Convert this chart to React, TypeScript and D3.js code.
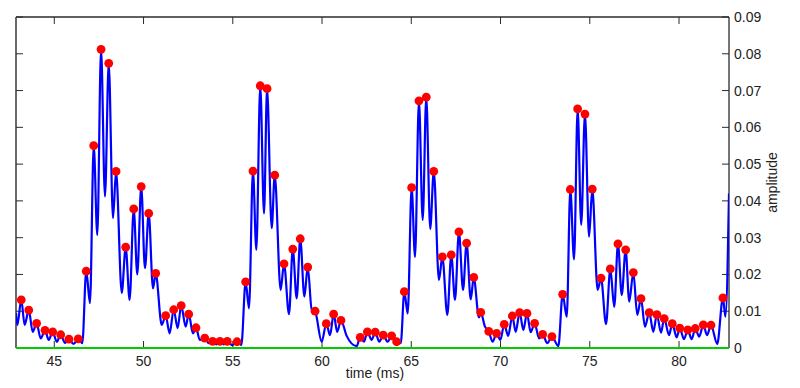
import React from "react";
import * as d3 from "d3";

const peakTimes = [
  43.15, 43.57, 44.01, 44.48, 44.91, 45.36, 45.82, 46.34, 46.79, 47.21,
  47.62, 48.05, 48.46, 49.0, 49.45, 49.87, 50.29, 50.68, 51.24, 51.69,
  52.11, 52.53, 52.94, 53.43, 53.87, 54.28, 54.69, 55.24, 55.72, 56.13,
  56.54, 56.92, 57.35, 57.87, 58.36, 58.78, 59.2, 59.61, 60.24, 60.65,
  61.06, 62.14, 62.54, 62.98, 63.43, 63.9, 64.18, 64.61, 65.02, 65.43,
  65.84, 66.26, 66.74, 67.24, 67.67, 68.1, 68.5, 68.89, 69.34, 69.78,
  70.21, 70.66, 71.07, 71.48, 71.91, 72.36, 72.88, 73.48, 73.91, 74.32,
  74.73, 75.14, 75.63, 76.15, 76.58, 77.01, 77.44, 77.87, 78.33, 78.76,
  79.17, 79.62, 80.04, 80.49, 80.91, 81.36, 81.79, 82.46,
];
const peakAmps = [
  0.0131, 0.0103, 0.0067, 0.0048, 0.0044, 0.0036, 0.0024, 0.0025, 0.0209, 0.055,
  0.0812, 0.0774, 0.048, 0.0274, 0.0378, 0.0439, 0.0366, 0.0203, 0.0088, 0.0104,
  0.0115, 0.0092, 0.0055, 0.0027, 0.0018, 0.0018, 0.0018, 0.0017, 0.018, 0.0481,
  0.0713, 0.0705, 0.047, 0.0229, 0.0269, 0.0297, 0.022, 0.01, 0.0066, 0.0092,
  0.0075, 0.0029, 0.0044, 0.0043, 0.0035, 0.0033, 0.0017, 0.0153, 0.0436, 0.0672,
  0.0682, 0.048, 0.0248, 0.0253, 0.0316, 0.0285, 0.0192, 0.0097, 0.0045, 0.004,
  0.0064, 0.0087, 0.0096, 0.0094, 0.0067, 0.0037, 0.0031, 0.0146, 0.0431, 0.065,
  0.0636, 0.0432, 0.019, 0.0215, 0.0283, 0.0267, 0.0205, 0.0134, 0.0096, 0.0091,
  0.008, 0.0066, 0.0054, 0.0049, 0.0053, 0.0063, 0.0062, 0.0136,
];

const troughTimes = [
  42.855, 42.93, 43.34, 43.79, 44.24, 44.69, 45.14, 45.6, 46.08, 46.57, 47.0,
  47.41, 47.84, 48.29, 48.78, 49.22, 49.65, 50.08, 50.53, 51.02, 51.46,
  51.91, 52.36, 52.77, 53.15, 53.66, 54.07, 54.49, 54.97, 55.48, 55.91,
  56.32, 56.75, 57.18, 57.68, 58.15, 58.58, 59.01, 59.42, 59.98, 60.45,
  60.85, 61.38, 61.94, 62.35, 62.78, 63.21, 63.68, 64.05, 64.41, 64.8,
  65.21, 65.64, 66.06, 66.55, 67.02, 67.45, 67.9, 68.33, 68.79, 69.13,
  69.56, 69.99, 70.43, 70.85, 71.28, 71.69, 72.16, 72.62, 73.24, 73.71,
  74.12, 74.52, 74.96, 75.44, 75.91, 76.37, 76.79, 77.21, 77.66, 78.09,
  78.56, 78.99, 79.44, 79.87, 80.28, 80.71, 81.13, 81.57, 82.14, 82.6, 82.8,
];
const troughAmps = [
  0.0095, 0.0062, 0.0063, 0.0044, 0.0026, 0.0022, 0.0017, 0.0014, 0.0011, 0.0013, 0.0122,
  0.0307, 0.0412, 0.0353, 0.015, 0.0131, 0.02, 0.0217, 0.0162, 0.0063, 0.004,
  0.0054, 0.0058, 0.004, 0.0022, 0.0013, 0.001, 0.001, 0.0008, 0.0008, 0.0108,
  0.0267, 0.0366, 0.0326, 0.0158, 0.0092, 0.0135, 0.014, 0.0105, 0.0017, 0.0035,
  0.0044, 0.0033, 0.0005, 0.0017, 0.0022, 0.0017, 0.0017, 0.002, 0.0013, 0.0094,
  0.0248, 0.0348, 0.0324, 0.0185, 0.009, 0.0131, 0.0158, 0.0132, 0.0083, 0.0058,
  0.0017, 0.0022, 0.0033, 0.0044, 0.0049, 0.0043, 0.0026, 0.0013, 0.0005, 0.0085,
  0.0241, 0.0335, 0.0303, 0.0158, 0.0065, 0.0112, 0.0144, 0.0126, 0.009, 0.0058,
  0.0044, 0.0042, 0.0035, 0.0029, 0.0024, 0.0024, 0.0031, 0.0035, 0.0011, 0.0085, 0.042,
];

const xTicks = [45, 50, 55, 60, 65, 70, 75, 80];
const yTicks = [0, 0.01, 0.02, 0.03, 0.04, 0.05, 0.06, 0.07, 0.08, 0.09];
const xDomain = [42.855, 82.8];
const yDomain = [0, 0.09];

const W = 800;
const H = 388;
const L = 16;
const R = 729;
const T = 17;
const B = 348;
const FONT = "'Liberation Sans', Arial, Helvetica, sans-serif";

export default function App() {
  const x = d3.scaleLinear().domain(xDomain).range([L, R]);
  const y = d3.scaleLinear().domain(yDomain).range([B, T]);

  const pts: [number, number][] = [];
  peakTimes.forEach((t, i) => pts.push([t, peakAmps[i]]));
  troughTimes.forEach((t, i) => pts.push([t, troughAmps[i]]));
  pts.sort((a, b) => a[0] - b[0]);

  const line = d3
    .line<[number, number]>()
    .x((d) => x(d[0]))
    .y((d) => y(d[1]))
    .curve(d3.curveMonotoneX);

  const axisColor = "#2b2b2b";
  const tl = 7;
  const fs = 14;

  return (
    <svg
      width={W}
      height={H}
      style={{ position: "absolute", left: 0, top: 0, background: "#fff" }}
    >
      <defs>
        <clipPath id="plot">
          <rect x={L} y={T - 5} width={R - L} height={B - T + 5} />
        </clipPath>
      </defs>
      <rect x={0} y={0} width={W} height={H} fill="#fff" />
      <line x1={L} y1={T} x2={R} y2={T} stroke={axisColor} strokeWidth={1.3} />
      <line x1={L} y1={T} x2={L} y2={B} stroke="#444" strokeWidth={1.6} />
      <line x1={R} y1={T} x2={R} y2={B} stroke={axisColor} strokeWidth={1.3} />
      {xTicks.map((t) => (
        <g key={"xt" + t}>
          <line x1={x(t)} x2={x(t)} y1={T} y2={T + tl} stroke={axisColor} strokeWidth={1} />
          <line x1={x(t)} x2={x(t)} y1={B} y2={B - tl} stroke={axisColor} strokeWidth={1} />
          <text x={x(t)} y={366} textAnchor="middle" fontFamily={FONT} fontSize={fs} fill="#222">
            {t}
          </text>
        </g>
      ))}
      {yTicks.map((v) => (
        <g key={"yt" + v}>
          <line x1={L} x2={L + tl} y1={y(v)} y2={y(v)} stroke={axisColor} strokeWidth={1} />
          <line x1={R} x2={R - tl} y1={y(v)} y2={y(v)} stroke={axisColor} strokeWidth={1} />
          <text x={734} y={y(v) + 5} textAnchor="start" fontFamily={FONT} fontSize={fs} fill="#222">
            {v === 0 ? "0" : v.toFixed(2)}
          </text>
        </g>
      ))}
      <text x={375} y={378} textAnchor="middle" fontFamily={FONT} fontSize={fs} fill="#222">
        time (ms)
      </text>
      <text
        transform={`translate(777, ${(T + B) / 2}) rotate(-90)`}
        textAnchor="middle"
        fontFamily={FONT}
        fontSize={fs}
        fill="#222"
      >
        amplitude
      </text>
      <line x1={L} x2={R} y1={y(0)} y2={y(0)} stroke="#00cc00" strokeWidth={2} />
      <g clipPath="url(#plot)">
        <path d={line(pts) || ""} fill="none" stroke="#0000ff" strokeWidth={2.2} />
      </g>
      {peakTimes.map((t, i) => (
        <circle key={"p" + i} cx={x(t)} cy={y(peakAmps[i])} r={4.4} fill="#ff0000" />
      ))}
    </svg>
  );
}
